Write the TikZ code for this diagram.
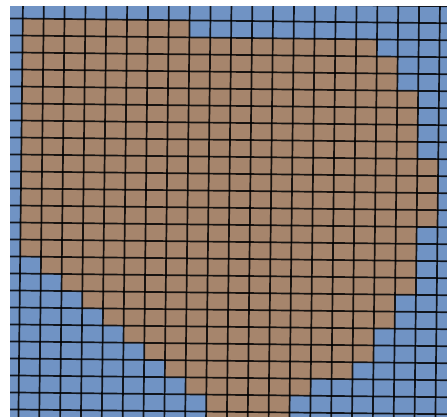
\documentclass[tikz,border=0pt]{standalone}
\definecolor{cellblue}{HTML}{7093C4}
\definecolor{cellbrown}{HTML}{A6856C}
\tikzset{
  gridline/.style={draw=black, line width=1.7pt, opacity=0.85},
  landcell/.style={fill=cellbrown},
}
\begin{document}
\begin{tikzpicture}[x=1pt,y=-1pt]
\useasboundingbox (0,0) rectangle (447,416);
\fill[white] (0,0) rectangle (447,416);
\begin{scope}
\clip (10,6) rectangle (447,416);
\begin{scope}[rotate=-0.63]
\fill[cellblue] (-30,-30) rectangle (480,450);
\foreach \r/\a/\b in {1/1/8, 2/1/17, 3/1/18, 4/1/18, 5/1/19, 6/1/19, 7/1/19, 8/1/19,
  9/1/20, 10/1/20, 11/1/20, 12/1/20, 13/1/19, 14/1/19, 15/2/19, 16/3/19, 17/4/18,
  18/5/18, 19/6/17, 20/7/17, 21/8/16, 22/9/14, 23/10/13, 24/10/13}
  \path[landcell] ({2.15+20.85*\a},{1.3+17*\r}) rectangle ({2.15+20.85*(\b+1)},{18.3+17*\r});
\foreach \i in {-1,...,22}
  \draw[gridline] ({2.15+20.85*\i},-30) -- ({2.15+20.85*\i},450);
\foreach \j in {-2,...,25}
  \draw[gridline] (-30,{1.3+17*\j}) -- (480,{1.3+17*\j});
\end{scope}
\end{scope}
\end{tikzpicture}
\end{document}
